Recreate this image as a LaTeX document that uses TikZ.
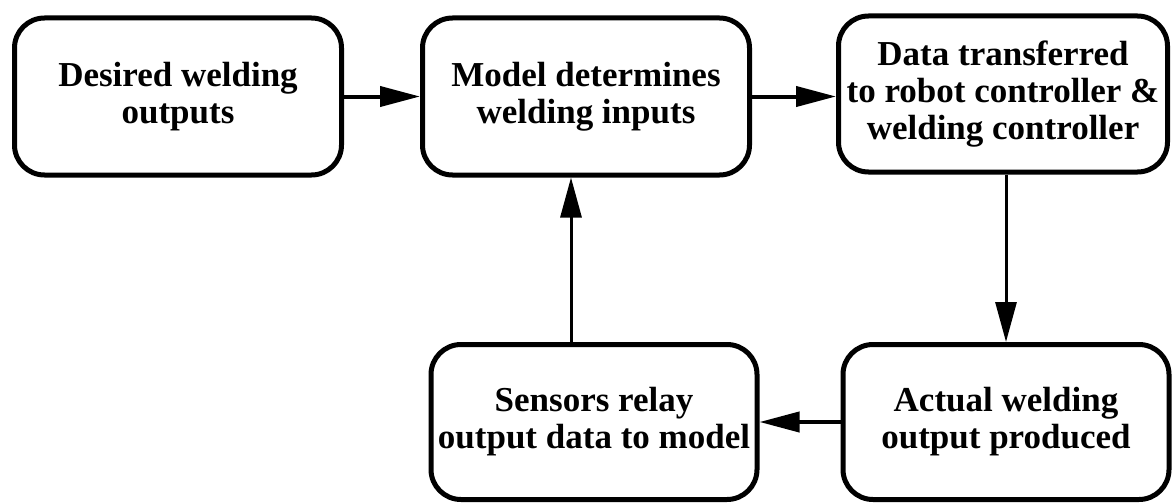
\documentclass[tikz,border=0pt]{standalone}
\usepackage{fontspec}
\setmainfont{Liberation Serif}
\usetikzlibrary{arrows.meta}
\begin{document}
\begin{tikzpicture}[x=1pt,y=-1pt]
\tikzset{
  procbox/.style={draw=black, line width=5pt, rounded corners=30pt, inner sep=0pt,
    align=center, fill=white, font=\bfseries\fontsize{35}{37}\selectfont},
  flowh/.style={line width=4pt, -{Triangle[length=40pt,width=20pt]}},
  flowv/.style={line width=3pt, -{Triangle[length=40pt,width=21pt]}}
}
\fill[white] (0,0) rectangle (1172,503);
\useasboundingbox (0,0) rectangle (1172,503);

\node[procbox, minimum width=327pt, minimum height=157pt] (b1) at (178,96.5)
  {Desired welding\\outputs};
\node[procbox, minimum width=327pt, minimum height=157pt] (b2) at (586,96.5)
  {Model determines\\welding inputs};
\node[procbox, minimum width=329pt, minimum height=156pt] (b3) at (1003,94)
  {Data transferred\\to robot controller \&\\welding controller};
\node[procbox, minimum width=326pt, minimum height=155pt] (b4) at (1006,422)
  {Actual welding\\output produced};
\node[procbox, minimum width=326pt, minimum height=155pt] (b5) at (594,422)
  {Sensors relay\\output data to model};

\draw[flowh] (b1.east) -- (b1.east -| b2.west);
\draw[flowh] (b2.east) -- (b2.east -| b3.west);
\draw[flowv] (b4.north |- b3.south) -- (b4.north);
\draw[flowh] (b4.west) -- (b4.west -| b5.east);
\coordinate (up) at ([xshift=-23pt]b5.north);
\draw[flowv] (up) -- (up |- b2.south);
\end{tikzpicture}
\end{document}
